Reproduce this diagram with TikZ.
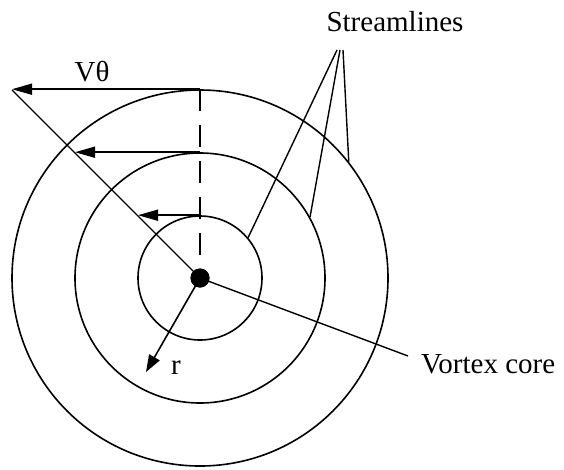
\documentclass[tikz,border=0pt]{standalone}
\usepackage{fontspec}
\setmainfont{Liberation Serif}
\usetikzlibrary{arrows.meta}
\begin{document}
\begin{tikzpicture}[x=1pt,y=-1pt,
  ring/.style={draw,circle,line width=1.6pt,inner sep=0pt},
  lbl/.style={font=\fontsize{29}{33}\selectfont,inner sep=0pt},
  vel/.style={line width=1.6pt,-{Triangle[length=20pt,width=11pt]}},
  thinline/.style={line width=1.4pt}]
\useasboundingbox (0,0) rectangle (564,469);
\fill[white] (0,0) rectangle (564,469);
\node[ring,minimum size=124pt] (c1) at (200,278) {};
\node[ring,minimum size=250pt] (c2) at (200,278) {};
\node[ring,minimum size=376pt] (c3) at (200,278) {};
\node[circle,fill=black,inner sep=0pt,minimum size=19pt] (core) at (200,278) {};
% velocity arrows
\coordinate (t3) at (12,90);
\coordinate (t2) at (75,153);
\coordinate (t1) at (138,216);
\draw[vel] (c3.north) -- (c3.north -| t3);
\draw[vel] (c2.north) -- (c2.north -| t2);
\draw[vel] (c1.north) -- (c1.north -| t1);
\draw[thinline] (t3) -- (core.center);
\draw[thinline,dash pattern=on 22pt off 14pt] (c3.north) -- (core.north);
% streamlines leader
\coordinate (a1) at (337,50);
\coordinate (a2) at (340,50);
\coordinate (a3) at (343,50);
\draw[thinline] (a1) -- (c1.40.5);
\draw[thinline] (a2) -- (c2.29.4);
\draw[thinline] (a3) -- (c3.38.9);
% radius arrow
\coordinate (rt) at (146,372);
\draw[line width=1.6pt,-{Triangle[length=17pt,width=12pt]}] (core.center) -- (rt);
% vortex core leader
\coordinate (vc) at (408,356);
\draw[thinline] (core.center) -- (vc);
\node[circle,fill=black,inner sep=0pt,minimum size=19pt] (dot) at (core) {};
% labels
\node[lbl] (vt) at (92,72) {Vθ};
\node[lbl] (sl) at (395,22) {Streamlines};
\node[lbl] (rl) at (176,368) {r};
\node[lbl,anchor=west] (vl) at (421,364) {Vortex core};
\end{tikzpicture}
\end{document}
